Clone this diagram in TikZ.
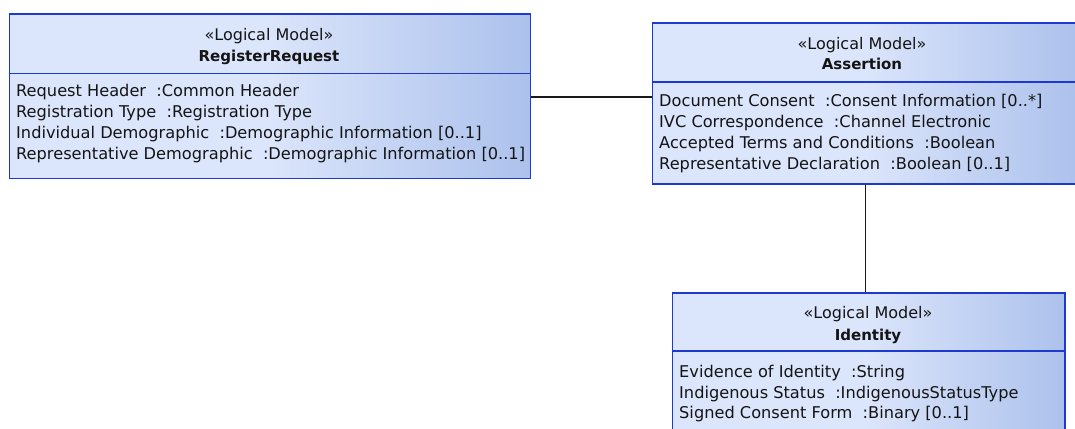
\documentclass[tikz,border=0pt]{standalone}
\usepackage{fontspec}
\setmainfont{DejaVu Sans}
\usetikzlibrary{calc}
\definecolor{umlborder}{RGB}{30,58,206}
\definecolor{umlfillL}{RGB}{219,229,251}
\definecolor{umlfillR}{RGB}{172,193,236}
\definecolor{umltext}{RGB}{20,20,20}
% light on the left half, darkening towards the right edge
\pgfdeclarehorizontalshading{umlshade}{100bp}{color(0bp)=(umlfillL); color(50bp)=(umlfillL); color(75bp)=(umlfillR); color(100bp)=(umlfillR)}
\tikzset{
  umlclass/.style={rectangle, draw=umlborder, line width=1.7pt, shade, shading=umlshade,
    anchor=north west, inner sep=0pt},
  umldivider/.style={draw=umlborder, line width=1.5pt},
  stereo/.style={anchor=base, font=\fontsize{16}{19}\selectfont, text=umltext, inner sep=0pt},
  clsname/.style={anchor=base, font=\fontsize{15}{18}\selectfont\bfseries, text=umltext, inner sep=0pt},
  attr/.style={anchor=base west, font=\fontsize{16.2}{19}\selectfont, text=umltext, inner sep=0pt},
  assoc/.style={draw=black!90, line width=1.8pt}
}
\begin{document}
\begin{tikzpicture}[x=1pt, y=-1pt]
\useasboundingbox (0,0) rectangle (1075,428);
\begin{scope}
\clip (0,0) rectangle (1075,428);

% RegisterRequest
\node[umlclass, minimum width=521pt, minimum height=164pt] (rr) at (8.5,13.5) {};
\path (rr.north west) ++(0,60) coordinate (rrdl);
\path (rr.north east) ++(0,60) coordinate (rrdr);
\draw[umldivider] (rrdl) -- (rrdr);
\node[stereo] (rrst) at (269,41) {«Logical Model»};
\node[clsname] (rrnm) at (269,62) {RegisterRequest};
\node[attr] (rra1) at (16,96) {Request Header\ \ :Common Header};
\node[attr] (rra2) at (16,117) {Registration Type\ \ :Registration Type};
\node[attr] (rra3) at (16,138) {Individual Demographic\ \ :Demographic Information [0..1]};
\node[attr] (rra4) at (16,159) {Representative Demographic\ \ :Demographic Information [0..1]};

% Assertion
\node[umlclass, minimum width=426pt, minimum height=161pt] (as) at (651.5,22) {};
\path (as.north west) ++(0,60) coordinate (asdl);
\path (as.north east) ++(0,60) coordinate (asdr);
\draw[umldivider] (asdl) -- (asdr);
\node[stereo] (asst) at (862,49) {«Logical Model»};
\node[clsname] (asnm) at (862,70) {Assertion};
\node[attr] (asa1) at (659,106) {Document Consent\ \ :Consent Information [0..*]};
\node[attr] (asa2) at (659,127) {IVC Correspondence\ \ :Channel Electronic};
\node[attr] (asa3) at (659,148) {Accepted Terms and Conditions\ \ :Boolean};
\node[attr] (asa4) at (659,169) {Representative Declaration\ \ :Boolean [0..1]};

% Identity
\node[umlclass, minimum width=392.5pt, minimum height=160pt] (id) at (671.5,292) {};
\path (id.north west) ++(0,59) coordinate (iddl);
\path (id.north east) ++(0,59) coordinate (iddr);
\draw[umldivider] (iddl) -- (iddr);
\node[stereo] (idst) at (868,318) {«Logical Model»};
\node[clsname] (idnm) at (868,340) {Identity};
\node[attr] (ida1) at (679,377) {Evidence of Identity\ \ :String};
\node[attr] (ida2) at (679,398) {Indigenous Status\ \ :IndigenousStatusType};
\node[attr] (ida3) at (679,418) {Signed Consent Form\ \ :Binary [0..1]};

% associations
\draw[assoc] (rr.east |- 0,97) -- (as.west |- 0,97);
\draw[assoc] (as.south -| 865.5,0) -- (id.north -| 865.5,0);
\end{scope}
\end{tikzpicture}
\end{document}
